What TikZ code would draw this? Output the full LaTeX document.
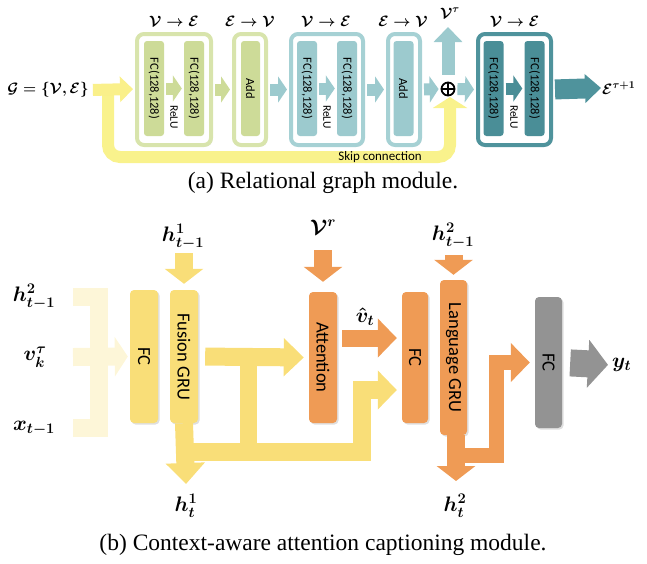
\IfFileExists{fix-cm.sty}{\RequirePackage{fix-cm}}{}
\documentclass[tikz,border=0pt]{standalone}
\usepackage{fontspec}
\setmainfont{Liberation Serif}
\newfontfamily\carlito{Carlito}
\usetikzlibrary{arrows.meta,shadows}
\definecolor{grn}{HTML}{CDDB98}
\definecolor{grnl}{HTML}{D8E4AC}
\definecolor{tea}{HTML}{9CCACE}
\definecolor{teal}{HTML}{A6D1D4}
\definecolor{tdk}{HTML}{4F939C}
\definecolor{tdki}{HTML}{4A8E97}
\definecolor{skipy}{HTML}{F9F28C}
\definecolor{gyel}{HTML}{FAF08A}
\definecolor{yel}{HTML}{F9DE78}
\definecolor{crm}{HTML}{FDF6D8}
\definecolor{org}{HTML}{EF9B55}
\definecolor{gry}{HTML}{939393}
\begin{document}
\begin{tikzpicture}[x=1pt,y=-1pt,
	outbox/.style={draw=#1,line width=4pt,fill=white,rounded corners=7pt,minimum height=111pt,inner sep=0pt,
		drop shadow={shadow xshift=1.5pt,shadow yshift=-1.5pt,opacity=.25}},
	inbox/.style={fill=#1,rounded corners=3pt,minimum width=20pt,minimum height=95pt,inner sep=0pt,
		font=\carlito\fontsize{12.5}{14}\selectfont},
	blk/.style={fill=#1,rounded corners=4pt,minimum width=28pt,inner sep=0pt,font=\carlito\fontsize{18.5}{20}\selectfont,
		drop shadow={shadow xshift=1.5pt,shadow yshift=-1.5pt,opacity=.25}},
	small arrow/.style={draw=#1,line width=12pt,-{Triangle[width=26pt,length=9pt]},shorten <=2pt,shorten >=2pt},
	in arrow/.style={draw=#1,line width=18pt,-{Triangle[width=38pt,length=15pt]}},
	fat arrow/.style={draw=#1,line width=18pt,line join=miter,-{Triangle[width=38pt,length=19pt]}},
	mlab/.style={font=\fontsize{21}{24}\selectfont\boldmath,inner sep=1pt},
	tlab/.style={font=\fontsize{15}{17}\selectfont\boldmath,inner sep=1pt},
	captext/.style={font=\fontsize{23.5}{26}\selectfont}]

	\useasboundingbox (0,0) rectangle (647,563);

	% (a) relational graph module
	\node[tlab] (g) at (48,90) {$\mathcal{G}=\{\mathcal{V},\mathcal{E}\}$};
	\coordinate (sk) at (108,90);
	\draw[draw=skipy,line width=12pt,rounded corners=12pt,-{Triangle[width=34pt,length=11pt]}]
		(sk) -- (108,157) -- (450,157) -- (450,97);
	\draw[draw=gyel,line width=12pt,-{Triangle[width=25pt,length=13pt]},shorten <=3pt,shorten >=2pt] (g.east) -- (135,89);
	\node[font=\carlito\fontsize{13}{14}\selectfont] (skl) at (380,157) {Skip connection};

	\node[outbox=grnl,minimum width=74pt] (ve1) at (174,89.5) {};
	\node[inbox=grn] (fc1) at (154,88.5) {\rotatebox{-90}{FC(128,128)}};
	\node[inbox=grn] (fc2) at (194,88.5) {\rotatebox{-90}{FC(128,128)}};
	\draw[small arrow=grn] (fc1.east) -- (fc2.west);
	\node[font=\carlito\fontsize{11.5}{12}\selectfont] (relu1) at (174,117) {\rotatebox{-90}{ReLU}};
	\node[tlab] (t1) at (174,21) {$\mathcal{V}\rightarrow\mathcal{E}$};

	\node[outbox=grnl,minimum width=32pt] (ev1) at (250,89.5) {};
	\node[inbox=grn,minimum width=19pt] (add1) at (250.5,88.5) {\rotatebox{-90}{Add}};
	\draw[small arrow=grn] (ve1.east) -- (ev1.west);
	\node[tlab] (t2) at (250,21) {$\mathcal{E}\rightarrow\mathcal{V}$};

	\node[outbox=teal,minimum width=72pt] (ve2) at (327,89.5) {};
	\node[inbox=tea] (fc3) at (307,88.5) {\rotatebox{-90}{FC(128,128)}};
	\node[inbox=tea] (fc4) at (347,88.5) {\rotatebox{-90}{FC(128,128)}};
	\draw[small arrow=tea] (fc3.east) -- (fc4.west);
	\node[font=\carlito\fontsize{11.5}{12}\selectfont] (relu2) at (327,117) {\rotatebox{-90}{ReLU}};
	\draw[small arrow=tea] (ev1.east) -- (ve2.west);
	\node[tlab] (t3) at (326,21) {$\mathcal{V}\rightarrow\mathcal{E}$};

	\node[outbox=teal,minimum width=32pt] (ev2) at (404,89.5) {};
	\node[inbox=tea,minimum width=20pt] (add2) at (403.5,88.5) {\rotatebox{-90}{Add}};
	\draw[small arrow=tea] (ve2.east) -- (ev2.west);
	\node[tlab] (t4) at (403,21) {$\mathcal{E}\rightarrow\mathcal{V}$};

	\node[circle,draw,line width=1.8pt,minimum size=13pt,inner sep=0pt] (op) at (448,89) {};
	\draw[line width=1.8pt] (op.north) -- (op.south) (op.west) -- (op.east);
	\draw[small arrow=tea] (ev2.east) -- (op.west);
	\coordinate (vt) at (448,27);
	\draw[draw=tea,line width=13pt,-{Triangle[width=28pt,length=15pt]},shorten <=7pt] (op.north) -- (vt);
	\node[tlab] (vtl) at (450,13) {$\mathcal{V}^{\tau}$};

	\node[outbox=tdk,minimum width=73pt] (ve3) at (514.5,89.5) {};
	\node[inbox=tdki] (fc5) at (493.5,88.5) {\rotatebox{-90}{FC(128,128)}};
	\node[inbox=tdki] (fc6) at (534.5,88.5) {\rotatebox{-90}{FC(128,128)}};
	\draw[small arrow=tdki] (fc5.east) -- (fc6.west);
	\node[font=\carlito\fontsize{11.5}{12}\selectfont] (relu3) at (514,117) {\rotatebox{-90}{ReLU}};
	\draw[small arrow=tea] (op.east) -- (ve3.west);
	\node[tlab] (t5) at (514.5,21) {$\mathcal{V}\rightarrow\mathcal{E}$};
	\node[tlab,anchor=west] (eo) at (601,88) {$\mathcal{E}^{\tau+1}$};
	\draw[draw=tdk,line width=20pt,-{Triangle[width=28pt,length=16pt]},shorten <=2pt] (ve3.east) -- (eo.west);

	\node[captext] (capa) at (323,183) {(a) Relational graph module.};

	% (b) context-aware attention captioning module
	\node[blk=yel,minimum height=133pt] (fc) at (144,356.5) {\rotatebox{-90}{FC}};
	\node[blk=yel,minimum height=133pt] (fgru) at (184,356.5) {\rotatebox{-90}{Fusion GRU}};
	\node[blk=org,minimum height=131pt] (att) at (323,357.5) {\rotatebox{-90}{Attention}};
	\node[blk=org,minimum width=26pt,minimum height=131pt] (fco) at (415,357.5) {\rotatebox{-90}{FC}};
	\node[blk=org,minimum width=27pt,minimum height=155pt] (lgru) at (453.5,357.5) {\rotatebox{-90}{Language GRU}};
	\node[blk=gry,minimum width=27pt,minimum height=131pt] (fcg) at (548.5,362.5) {\rotatebox{-90}{FC}};

	\node[mlab] (h2l) at (34,297) {$h^2_{t-1}$};
	\node[mlab] (vk) at (35,357) {$v^{\tau}_{k}$};
	\node[mlab] (xl) at (34,428) {$x_{t-1}$};
	\coordinate (b1) at (73,297);
	\coordinate (b2) at (73,357);
	\coordinate (b3) at (73,428);
	\draw[draw=crm,line width=18pt,line join=miter] (b1) -- (98.5,297) -- (98.5,428) -- (b3);
	\draw[draw=crm,line width=18pt,-{Triangle[width=39pt,length=13pt]},shorten >=2pt] (b2) -- (fc.west);

	\node[mlab] (h1p) at (183,237) {$h^1_{t-1}$};
	\coordinate (h1s) at (184,253);
	\draw[in arrow=yel,shorten >=6pt] (h1s) -- (fgru.north);
	\node[mlab] (vr) at (323,227) {$\mathcal{V}^{r}$};
	\coordinate (vrs) at (323,250);
	\draw[in arrow=org,shorten >=10pt] (vrs) -- (att.north);
	\node[mlab] (h2p) at (453,236) {$h^2_{t-1}$};
	\coordinate (h2s) at (453.5,255);
	\draw[in arrow=org,shorten >=5pt] (h2s) -- (lgru.north);

	\coordinate (tj) at (248.5,357);
	\coordinate (ya) at (186,452);
	\coordinate (yb) at (361.5,390);
	\draw[draw=yel,line width=17pt] (tj) -- (248.5,452);
	\draw[fat arrow=yel] (ya) -| (yb) -- ([xshift=-5pt]yb -| fco.west);
	\draw[fat arrow=yel,shorten <=7pt,shorten >=5pt,-{Triangle[width=37pt,length=20pt]}] (fgru.east) -- (att.west);
	\node[mlab] (h1) at (186,506) {$h^1_t$};
	\coordinate (h1e) at (186,484);
	\draw[fat arrow=yel,-{Triangle[width=38pt,length=21pt]}] (fgru.south) -- (h1e);

	\draw[fat arrow=org,line width=17pt,shorten <=5pt,shorten >=5pt] ([yshift=19.5pt]att.east) -- ([yshift=19.5pt]fco.west);
	\node[mlab] (vh) at (365,317) {$\hat{v}_t$};

	\coordinate (lb) at (456,455.5);
	\coordinate (lc) at (496.5,362.5);
	\draw[fat arrow=org,line width=15pt,shorten >=5pt] (lb) -| (lc) -- (fcg.west);
	\node[mlab] (h2) at (455,506) {$h^2_t$};
	\coordinate (h2e) at (456,481);
	\draw[in arrow=org] (lgru.south -| lb) -- (h2e);

	\node[mlab,anchor=west] (yt) at (611,365) {$y_t$};
	\draw[draw=gry,line width=27pt,-{Triangle[width=47pt,length=20pt]},shorten <=8pt,shorten >=3pt] (fcg.east) -- (yt.west);

	\node[captext] (capb) at (323,545) {(b) Context-aware attention captioning module.};

\end{tikzpicture}
\end{document}
